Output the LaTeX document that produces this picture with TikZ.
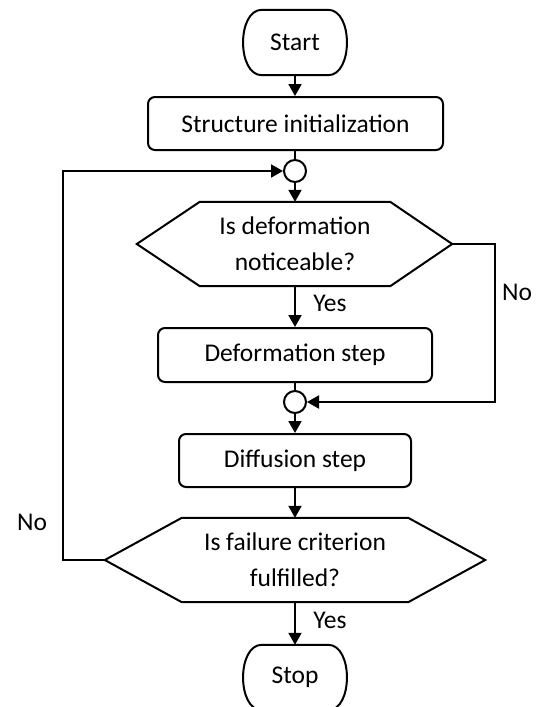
\documentclass[tikz,border=0pt]{standalone}
\usepackage{fontspec}
\setmainfont{Carlito}
\usetikzlibrary{arrows.meta}
\begin{document}
\begin{tikzpicture}[x=1pt,y=-1pt,
  every node/.style={font=\fontsize{25.5}{36}\selectfont},
  line/.style={line width=2pt},
  arr/.style={line width=2pt,-{Triangle[length=12pt,width=13pt]}},
  stepbox/.style={draw,line width=2pt,rounded corners=7pt,inner sep=0pt},
  term/.style={inner sep=0pt,minimum width=66pt,minimum height=65pt},
  decide/.style={inner sep=0pt,minimum height=84pt,align=center},
  joint/.style={draw,circle,line width=2pt,fill=white,inner sep=0pt,minimum size=22pt}
]
\useasboundingbox (0,0) rectangle (536,707);

% Start
\node[term] (start) at (295,42.5) {Start};
\draw[line] (start.north west) -- (start.north east)
  .. controls +(25,0) and +(25,0) .. (start.south east)
  -- (start.south west)
  .. controls +(-25,0) and +(-25,0) .. cycle;

% Structure initialization
\node[stepbox,minimum width=295pt,minimum height=53pt] (init) at (295.5,123.5) {Structure initialization};

% first joint
\node[joint] (c1) at (295,171) {};

% decision 1
\node[decide,minimum width=190pt] (d1) at (295,244) {Is deformation\\noticeable?};
\coordinate (d1l) at ([xshift=-63pt]d1.west);
\coordinate (d1r) at ([xshift=62pt]d1.east);
\draw[line] (d1l) -- (d1.north west) -- (d1.north east) -- (d1r)
  -- (d1.south east) -- (d1.south west) -- cycle;

% Deformation step
\node[stepbox,minimum width=274pt,minimum height=54pt] (deform) at (295,355) {Deformation step};

% second joint
\node[joint] (c2) at (295,402) {};

% Diffusion step
\node[stepbox,minimum width=232pt,minimum height=53pt] (diff) at (295,460.5) {Diffusion step};

% decision 2
\node[decide,minimum width=226pt] (d2) at (295,560) {Is failure criterion\\fulfilled?};
\coordinate (d2l) at ([xshift=-77pt]d2.west);
\coordinate (d2r) at ([xshift=77pt]d2.east);
\draw[line] (d2l) -- (d2.north west) -- (d2.north east) -- (d2r)
  -- (d2.south east) -- (d2.south west) -- cycle;

% Stop
\node[term] (stop) at (295,677.5) {Stop};
\draw[line] (stop.north west) -- (stop.north east)
  .. controls +(25,0) and +(25,0) .. (stop.south east)
  -- (stop.south west)
  .. controls +(-25,0) and +(-25,0) .. cycle;

% connectors
\draw[arr] (start.south) -- (start.south |- init.north);
\draw[line] (init.south -| c1) -- (c1.north);
\draw[arr] (c1.south) -- (d1.north);
\draw[arr] (d1.south) -- (deform.north);
\draw[line] (deform.south) -- (c2.north);
\draw[arr] (d1r) -- ++(43,0) |- (c2.east);
\draw[arr] (c2.south) -- (diff.north);
\draw[arr] (diff.south) -- (d2.north);
\draw[arr] (d2l) -- ++(-42,0) |- (c1.west);
\draw[arr] (d2.south) -- (stop.north);

% labels
\node (yes1) at (330,303) {Yes};
\node (no1) at (517,292) {No};
\node (no2) at (32,522) {No};
\node (yes2) at (330,620) {Yes};
\end{tikzpicture}
\end{document}
